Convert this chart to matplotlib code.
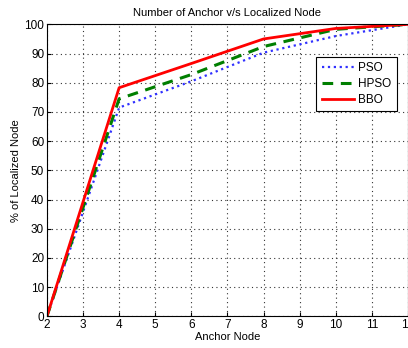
import numpy as np
import matplotlib.pyplot as plt

plt.rcParams['font.family'] = ['Liberation Sans', 'DejaVu Sans']

# anchor nodes and % of localized nodes
anchor = [2, 4, 6, 8, 10, 12]
pso = [0, 71.5, 80.5, 90.3, 96, 100]
hpso = [0, 74.5, 82.8, 92.4, 98.3, 100]
bbo = [0, 78.3, 86.6, 95, 98.6, 100]

fig = plt.figure(figsize=(4.08, 3.48), dpi=100)
ax = fig.add_axes([0.115, 0.091, 0.885, 0.839])

ax.plot(anchor, pso, ':', color='#3030ff', lw=1.6, label='PSO')
ax.plot(anchor, hpso, '--', color='#007f00', lw=2.2, label='HPSO', dashes=(3.5, 2.5))
ax.plot(anchor, bbo, '-', color='red', lw=2.0, label='BBO')

ax.set_xlim(2, 12)
ax.set_ylim(0, 100)
ax.set_xticks(range(2, 13))
ax.set_yticks(range(0, 101, 10))
ax.tick_params(direction='in', labelsize=8.5, length=3, pad=2)
ax.grid(True, linestyle=(0, (1, 3)), color='#333333', lw=0.8)
for s in ax.spines.values():
    s.set_linewidth(0.8)

ax.set_title('Number of Anchor v/s Localized Node', fontsize=8, pad=6)
ax.set_xlabel('Anchor Node', fontsize=8, labelpad=1)
ax.set_ylabel('% of Localized Node', fontsize=8, labelpad=2)

leg = ax.legend(loc='upper right', bbox_to_anchor=(0.985, 0.91), fontsize=8.5,
                fancybox=False, framealpha=1, edgecolor='black',
                handlelength=2.7, handletextpad=0.4, borderpad=0.45,
                labelspacing=0.35)
leg.get_frame().set_linewidth(0.8)

fig.savefig('out.png', dpi=100)
